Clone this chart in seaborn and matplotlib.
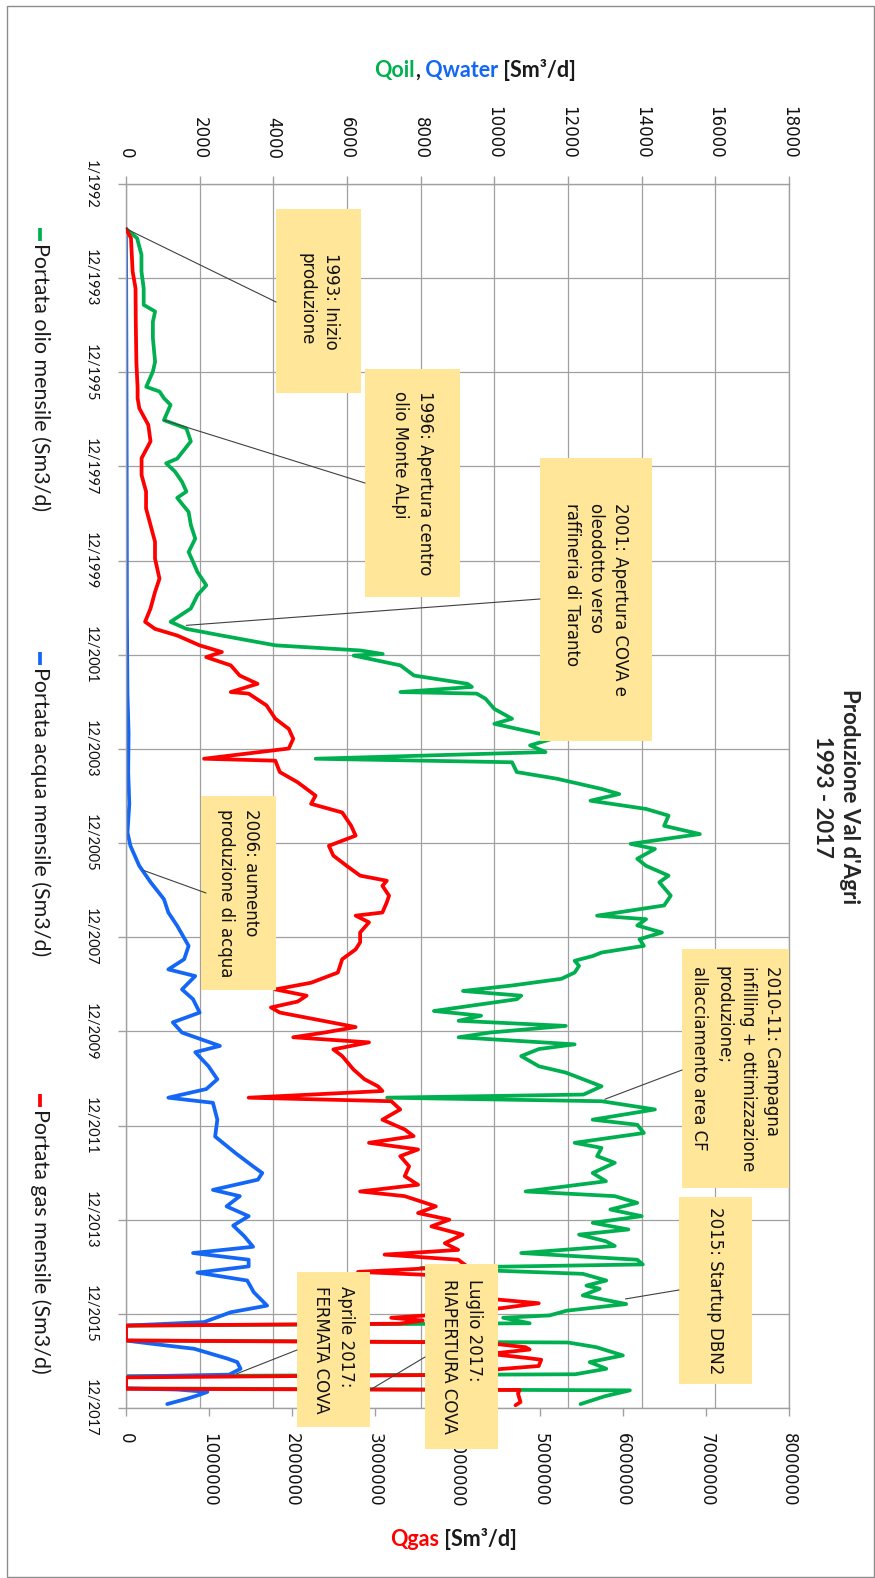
import matplotlib
matplotlib.use("Agg")
import numpy as np
import pandas as pd
import matplotlib.pyplot as plt
import seaborn as sns
from matplotlib.patches import Rectangle, ConnectionPatch

# ---------------- data (t = position along the time axis, in months from 1/1992) ----------------
date_labels = ["1/1992", "12/1993", "12/1995", "12/1997", "12/1999", "12/2001", "12/2003",
               "12/2005", "12/2007", "12/2009", "12/2011", "12/2013", "12/2015", "12/2017"]
date_pos = [0, 24, 48, 72, 96, 120, 144, 168, 192, 216, 240, 264, 288, 312]
oil_ticks = [0, 2000, 4000, 6000, 8000, 10000, 12000, 14000, 16000, 18000]
gas_ticks = [0, 1000000, 2000000, 3000000, 4000000, 5000000, 6000000, 7000000, 8000000]

oil_t = [11.4, 13.8, 18.0, 22.3, 26.6, 30.8, 32.5, 35.1, 39.3, 45.3, 47.8, 51.7, 52.9, 54.6, 56.3,
         60.2, 62.3, 65.6, 70.0, 71.2, 73.3, 75.9, 78.4, 80.0, 83.6, 86.9, 90.4, 93.8, 96.3, 98.9,
         102.3, 104.8, 108.2, 111.6, 113.4, 115.1, 117.6, 118.9, 119.8, 120.2, 122.7, 125.3, 127.4,
         128.2, 129.5, 129.9, 131.2, 133.8, 136.3, 137.6, 140.6, 141.4, 143.1, 144.8, 146.5, 147.4,
         149.9, 151.6, 154.2, 155.5, 157.2, 159.3, 161.0, 163.6, 165.7, 168.2, 169.5, 172.0, 173.8,
         176.3, 178.0, 181.4, 183.9, 186.5, 187.4, 189.0, 190.8, 192.5, 194.2, 195.9, 196.8, 198.0,
         199.3, 201.0, 202.6, 204.3, 205.7, 206.9, 207.8, 210.8, 212.0, 213.3, 214.6, 216.3, 217.5,
         219.3, 220.5, 222.3, 224.9, 226.5, 228.7, 230.0, 232.1, 232.9, 233.8, 235.9, 238.5, 239.8,
         241.9, 244.4, 245.7, 247.8, 249.5, 252.1, 254.2, 256.8, 258.0, 259.7, 261.4, 263.1, 264.8,
         266.5, 267.8, 269.5, 270.7, 272.5, 274.2, 275.4, 276.3, 277.8, 279.5, 280.8, 281.6, 283.3,
         285.5, 287.2, 288.4, 289.0, 290.4, 291.0, 294.8, 295.3, 296.5, 298.6, 300.3, 302.0, 303.4,
         303.9, 307.0, 307.5, 309.0, 311.0]
oil_v = [0, 300, 420, 420, 480, 480, 790, 730, 730, 790, 730, 550, 910, 1030, 1210,
         1030, 1640, 1760, 1390, 1090, 1330, 1520, 1640, 1390, 1700, 1760, 1880, 1700, 1820, 1940,
         2180, 1940, 1760, 1210, 1640, 2600, 4060, 6360, 6970, 6180, 7450, 7820, 9270,
         9390, 7450, 9520, 9760, 10000, 10480, 10000, 11450, 11580, 10970, 11390, 5150, 10480,
         10610, 11700, 12910, 13390, 12610, 14120, 14730, 14610, 15580, 13700, 14360, 13880, 14120,
         14730, 14480, 14790, 14610, 12790, 14120, 13880, 14550, 13940, 14060, 12910, 12670, 12180,
         12300, 12180, 11820, 10480, 9150, 10730, 10610, 8360, 9640, 9030, 11940, 9880, 9030,
         12180, 11210, 10730, 11210, 11940, 12550, 12910, 12420, 7090, 12910, 14360, 12670, 13880,
         14060, 12180, 12910, 12790, 13270, 12670, 13030, 10850, 13270, 13880, 13150, 14000, 12670,
         13640, 12300, 13030, 13270, 10730, 13880, 14030, 8000, 12400, 13040, 12500, 12860, 12400,
         13580, 11960, 11500, 10240, 10960, 0, 0, 12000, 12770, 13490, 12590, 13040, 12200,
         0, 0, 13680, 13000, 12340]

water_t = [11.4, 40, 80, 110, 130, 140, 150, 158, 165.3, 168.7, 173.8, 178.0, 182.3, 185.7, 189.1,
           194.2, 197.6, 200.2, 201.9, 205.3, 207.8, 211.2, 213.7, 216.3, 219.7, 221.3, 224.9, 228.2,
           230.7, 232.9, 234.2, 238.5, 242.8, 247.0, 250.4, 252.1, 253.8, 256.4, 258.0, 260.6, 263.1,
           265.5, 268.2, 270.9, 272.5, 274.2, 275.9, 277.5, 279.5, 282.5, 285.9, 287.6, 290.1, 291.0,
           294.8, 295.6, 296.9, 299.4, 300.3, 302.0, 303.5, 304.0, 307.0, 307.3, 307.9, 308.8, 309.6,
           311.0]
water_v = [0, 10, 20, 25, 40, 70, 60, 90, 40, 120, 360, 670, 1030, 1150, 1390,
           1700, 1580, 1150, 1880, 1520, 1820, 2000, 1270, 1520, 2550, 1880, 2240, 2480,
           2180, 1150, 2360, 2480, 2420, 2970, 3450, 3700, 3580, 2360, 3090, 2730, 3330,
           2910, 3210, 3450, 1820, 3330, 3330, 1940, 3290, 3470, 3830, 2840, 2120, 0,
           0, 680, 1850, 2750, 3020, 3110, 2800, 0, 0, 1400, 2210, 1940, 1670,
           1120]

gas_t = [11.4, 13.8, 22.3, 26.6, 35.1, 45.3, 52.0, 54.6, 57.2, 61.4, 65.6, 69.9, 74.2, 78.4, 82.7,
         86.9, 91.2, 95.5, 100.6, 104.0, 108.2, 111.6, 113.4, 115.1, 117.6, 119.3, 120.6, 122.7,
         125.3, 127.4, 129.5, 129.9, 132.9, 136.3, 138.9, 141.4, 143.9, 146.5, 147.0, 149.9, 152.5,
         155.9, 158.0, 160.2, 163.6, 166.1, 168.7, 171.2, 173.8, 176.3, 177.6, 178.9, 181.4, 183.1,
         185.7, 186.5, 188.2, 190.8, 193.3, 195.1, 197.6, 201.0, 203.6, 205.3, 206.9, 208.4, 209.9,
         211.2, 214.9, 216.3, 217.5, 218.8, 220.6, 222.3, 225.7, 228.2, 230.0, 231.2, 232.9, 233.8,
         235.9, 238.5, 241.0, 242.7, 244.4, 246.1, 247.8, 250.4, 252.9, 255.1, 256.8, 258.0, 260.6,
         262.3, 264.0, 265.7, 267.8, 270.0, 271.7, 272.9, 274.2, 275.9, 277.3, 278.5, 280.5, 282.5,
         284.0, 285.3, 286.5, 288.0, 289.0, 289.7, 290.5, 291.0, 294.8, 295.3, 296.5, 297.1, 298.2,
         299.2, 299.7, 301.3, 302.1, 303.5, 304.2, 307.1, 307.4, 308.3, 310.5, 311.3]
gas_v = [0, 60000, 80000, 115000, 118000, 125000, 140000, 140000, 161000, 269000, 296000, 188000,
         188000, 242000, 242000, 296000, 350000, 350000, 404000, 350000, 296000, 230000, 350000,
         619000, 888000, 1157000, 968000, 1264000, 1372000, 1587000, 1264000, 1480000, 1695000,
         1802000, 1964000, 2018000, 1964000, 942000, 1802000, 1856000, 2071000, 2287000, 2233000,
         2609000, 2717000, 2771000, 2448000, 2502000, 2663000, 2825000, 3147000, 3094000, 3174000,
         3147000, 3094000, 2771000, 2932000, 2825000, 2825000, 2771000, 2609000, 2556000, 2233000,
         1802000, 2179000, 2071000, 1749000, 1856000, 2771000, 2394000, 2018000, 2932000, 2502000,
         2609000, 2744000, 2878000, 3040000, 3094000, 1480000, 3201000, 3309000, 3094000, 3363000,
         3470000, 2932000, 3524000, 3309000, 3416000, 3363000, 3524000, 2825000, 3363000, 3739000,
         3524000, 3901000, 3685000, 4062000, 3847000, 4008000, 3120000, 4008000, 4116000, 2800000,
         4100000, 4250000, 4150000, 4300000, 4980000, 4550000, 3900000, 3200000, 3580000, 3300000,
         0, 0, 4300000, 4820000, 4870000, 4390000, 4820000, 5010000, 4980000, 4500000, 4300000,
         0, 0, 4750000, 4730000, 4760000, 4700000]

legend_labels = ["Portata olio mensile (Sm3/d)", "Portata acqua mensile (Sm3/d)",
                 "Portata gas mensile (Sm3/d)"]
notes = ["1993: Inizio\nproduzione",
         "1996: Apertura centro\nolio Monte ALpi",
         "2001: Apertura COVA e\noleodotto verso\nraffineria di Taranto",
         "2006: aumento\nproduzione di acqua",
         "2010-11: Campagna\ninfilling + ottimizzazione\nproduzione;\nallacciamento area CF",
         "2015: Startup DBN2",
         "Aprile 2017:\nFERMATA COVA",
         "Luglio 2017:\nRIAPERTURA COVA"]
# data point each note refers to: (series, value, t)
note_targets = [("oil", 0, 11.4), ("oil", 1030, 60.2), ("oil", 1640, 112.5), ("water", 485, 175.0),
                ("oil", 13000, 233.3), ("oil", 13560, 284.2), ("water", 3000, 303.3),
                ("gas", 2960000, 307.2)]

# ---------------- styling / layout ----------------
GREEN, BLUE, RED = "#00B050", "#1466F5", "#FF0000"
GRID = "#A0A0A0"
BOXC = "#FFE699"

sns.set_theme(style="white")
plt.rcParams["font.family"] = ["DejaVu Sans"]

W, H = 875, 1578
fig = plt.figure(figsize=(W / 100, H / 100), dpi=100, facecolor="white")
L, R, T, B = 126, 789, 184, 1408
ax = fig.add_axes([L / W, 1 - B / H, (R - L) / W, (B - T) / H])
ax2 = ax.twiny()

df_oil = pd.DataFrame({"t": oil_t, "v": oil_v})
df_water = pd.DataFrame({"t": water_t, "v": water_v})
df_gas = pd.DataFrame({"t": gas_t, "v": gas_v})

lw = 2.7
kw = dict(orient="y", sort=False, estimator=None, lw=lw, solid_joinstyle="round",
          solid_capstyle="round")
sns.lineplot(data=df_oil, x="v", y="t", color=GREEN, ax=ax, **kw)
sns.lineplot(data=df_water, x="v", y="t", color=BLUE, ax=ax, **kw)
sns.lineplot(data=df_gas, x="v", y="t", color=RED, ax=ax2, **kw)

ax.set_xlim(0, 18000)
ax2.set_xlim(0, 8000000)
ax.set_ylim(312, 0)
for a in (ax, ax2):
    a.set_xlabel("")
    a.set_ylabel("")

ax.xaxis.tick_top()
ax2.xaxis.tick_bottom()
ax.set_xticks(oil_ticks)
ax.set_xticklabels([str(v) for v in oil_ticks])
ax.set_yticks(date_pos)
ax.set_yticklabels(date_labels)
ax2.set_xticks(gas_ticks)
ax2.set_xticklabels([str(v) for v in gas_ticks])

ax.set_axisbelow(True)
ax.grid(True, color=GRID, lw=0.9)
ax2.grid(False)

ax.tick_params(axis="x", top=True, bottom=False, labeltop=True, labelbottom=False,
               length=6, width=1, color=GRID, pad=12, labelsize=12, labelcolor="#111111",
               labelrotation=-90, direction="out")
ax.tick_params(axis="y", left=True, right=False, length=6, width=1, color=GRID, pad=14,
               labelsize=10.5, labelcolor="#111111", labelrotation=-90, direction="out")
ax2.tick_params(axis="x", bottom=True, top=False, labelbottom=True, labeltop=False,
                length=6, width=1, color=GRID, pad=12, labelsize=12, labelcolor="#111111",
                labelrotation=-90, direction="out")
ax2.tick_params(axis="y", left=False, right=False, labelleft=False, labelright=False)
for lbl in ax.get_yticklabels():
    lbl.set_fontfamily("Lato")
    lbl.set_va("center")

for s in ax.spines.values():
    s.set_color(GRID)
    s.set_linewidth(1)
for s in ax2.spines.values():
    s.set_visible(False)

# ---------------- overlay in pixel coordinates ----------------
ov = fig.add_axes([0, 0, 1, 1], zorder=10)
ov.set_xlim(0, W)
ov.set_ylim(H, 0)
ov.axis("off")
ov.patch.set_alpha(0)

# outer frame
ov.add_patch(Rectangle((6.5, 6), 867, 1571, fill=False, edgecolor="#8c8c8c", lw=1))

# title
ov.text(836, 797, "Produzione Val d'Agri\n1993 - 2017", rotation=-90, ha="center", va="center",
        multialignment="center", fontsize=16, fontweight="bold", family="Lato", linespacing=1.3)

# axis titles (multi-coloured)
def coloured(x, y, parts, size=16):
    prev = ov.text(x, y, parts[0][0], color=parts[0][1], fontsize=size, fontweight="bold",
                   family="Lato", ha="left", va="center")
    for txt, col in parts[1:]:
        prev = ov.annotate(txt, xy=(1, 0), xycoords=prev, color=col, fontsize=size,
                           fontweight="bold", family="Lato", ha="left", va="bottom")

coloured(374, 70, [("Qoil", GREEN), (",", "#1a1a1a"), (" Qwater", BLUE), (" [Sm\u00b3/d]", "#1a1a1a")],
         size=15.5)
coloured(390, 1540, [("Qgas", RED), (" [Sm\u00b3/d]", "#1a1a1a")], size=15.5)

# legend (rotated)
for lab, col, y0 in zip(legend_labels, [GREEN, BLUE, RED], [228, 652, 1094]):
    ov.plot([40, 40], [y0, y0 + 13], color=col, lw=2.7, solid_capstyle="butt")
    ov.text(40, y0 + 15, lab, rotation=-90, rotation_mode="anchor", ha="left", va="center",
            fontsize=15.5, family="Lato", color="#1a1a1a")

# annotation boxes: (x0, y0, x1, y1) in pixels, anchor for leader line
boxes = [(276, 209, 361, 393), (365, 369, 460, 597), (540, 458, 652, 741), (201, 796, 276, 990),
         (682, 949, 789, 1188), (679, 1197, 752, 1384), (297, 1272, 370, 1427), (425, 1264, 498, 1449)]
anchors = [(276, 302), (365, 483), (540, 599), (206, 893), (682, 1070), (679, 1290),
           (297, 1350), (425, 1357)]
for (x0, y0, x1, y1), txt in zip(boxes, notes):
    ov.add_patch(Rectangle((x0, y0), x1 - x0, y1 - y0, facecolor=BOXC, edgecolor="none"))
    ov.text((x0 + x1) / 2, (y0 + y1) / 2, txt, rotation=-90, ha="center", va="center",
            multialignment="left", fontsize=12, linespacing=1.45, color="#111111")

axes_for = {"oil": ax, "water": ax, "gas": ax2}
for (sname, val, tt), (bx, by) in zip(note_targets, anchors):
    con = ConnectionPatch(xyA=(bx, by), coordsA=ov.transData, xyB=(val, tt),
                          coordsB=axes_for[sname].transData, color="#404040", lw=0.8, zorder=12)
    fig.add_artist(con)

fig.savefig("out.png", dpi=100, facecolor="white")
